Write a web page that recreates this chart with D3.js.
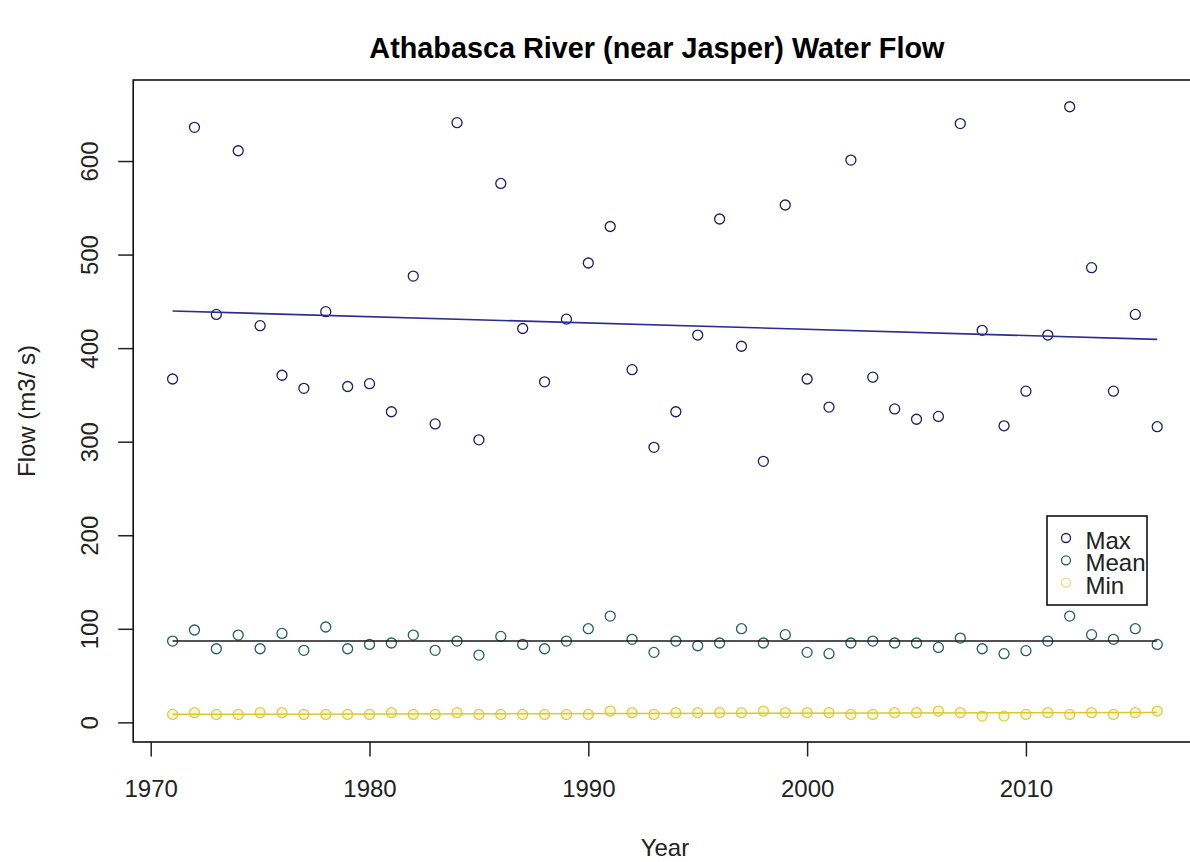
<!DOCTYPE html>
<html lang="en">
<head>
<meta charset="utf-8">
<title>Athabasca River (near Jasper) Water Flow</title>
<script src="https://d3js.org/d3.v7.min.js"></script>
<style>
  body { margin: 0; background: white; }
  text { font-family: "Liberation Sans", Arial, sans-serif; fill: #222; }
</style>
</head>
<body>
<script>
// yearly flow values (m3/s)
var years = [1971,1972,1973,1974,1975,1976,1977,1978,1979,1980,
             1981,1982,1983,1984,1985,1986,1987,1988,1989,1990,
             1991,1992,1993,1994,1995,1996,1997,1998,1999,2000,
             2001,2002,2003,2004,2005,2006,2007,2008,2009,2010,
             2011,2012,2013,2014,2015,2016];
var maxFlow = [367,636,436,611,424,371,357,439,359,362,
               332,477,319,641,302,576,421,364,431,491,
               530,377,294,332,414,538,402,279,553,367,
               337,601,369,335,324,327,640,419,317,354,
               414,658,486,354,436,316];
var meanFlow = [86.9,98.7,78.7,93.3,78.7,95.1,77.0,101.9,78.7,83.3,
                84.8,93.3,77.0,86.9,71.9,91.9,83.3,78.7,86.9,100.1,
                113.6,88.7,74.8,86.9,81.9,84.8,100.1,84.8,93.7,74.8,
                73.4,84.8,86.9,84.8,84.8,80.1,90.1,78.7,73.4,76.6,
                86.9,113.6,93.7,88.7,100.1,83.3];
var minFlow = [8.5,10.3,8.5,8.5,10.3,10.3,8.5,8.5,8.5,8.5,
               10.3,8.5,8.5,10.3,8.5,8.5,8.5,8.5,8.5,8.5,
               12.1,10.3,8.5,10.3,10.3,10.3,10.3,12.1,10.3,10.3,
               10.3,8.5,8.5,10.3,10.3,12.1,10.3,6.7,6.7,8.5,
               10.3,8.5,10.3,8.5,10.3,12.1];

// fitted trend lines (end points)
var trendYears = [1971, 2016];
var maxTrend = [439.7, 409.4];
var meanTrend = [86.9, 86.9];
var minTrend = [8.5, 10.6];

var xTicks = [1970, 1980, 1990, 2000, 2010];
var yTicks = [0, 100, 200, 300, 400, 500, 600];
var legendNames = ["Max", "Mean", "Min"];

var W = 1190, H = 862;
var plotL = 133.2, plotR = 1196.6, plotT = 80, plotB = 742;

var svg = d3.select("body").append("svg")
  .attr("width", W)
  .attr("height", H);

var x = d3.scaleLinear().domain([1969.2, 2017.8]).range([plotL, plotR]);
var y = d3.scaleLinear().domain([-21, 686.6]).range([plotB, plotT]);

//title
svg.append("text")
  .attr("x", (plotL + plotR) / 2 - 8)
  .attr("y", 57.5)
  .attr("text-anchor", "middle")
  .attr("font-size", "28.8px")
  .attr("font-weight", "bold")
  .style("fill", "#000")
  .text("Athabasca River (near Jasper) Water Flow");

//axes
var xAxis = svg.append("g")
  .attr("transform", "translate(0," + plotB + ")")
  .call(d3.axisBottom(x).tickValues(xTicks).tickFormat(d3.format("d")).tickSize(14.5).tickSizeOuter(0));
xAxis.select(".domain").remove();
xAxis.selectAll("line").attr("stroke", "#222").attr("stroke-width", 1.5);
xAxis.selectAll("text")
  .attr("font-size", "24px")
  .attr("y", 0)
  .attr("dy", "54.5px")
  .attr("font-family", "Liberation Sans, Arial, sans-serif")
  .style("fill", "#222");

var yAxis = svg.append("g")
  .attr("transform", "translate(" + plotL + ",0)")
  .call(d3.axisLeft(y).tickValues(yTicks).tickSize(15).tickSizeOuter(0));
yAxis.select(".domain").remove();
yAxis.selectAll("line").attr("stroke", "#222").attr("stroke-width", 1.5);
yAxis.selectAll("text")
  .attr("font-size", "24px")
  .attr("x", 0)
  .attr("dy", 0)
  .attr("text-anchor", "middle")
  .attr("font-family", "Liberation Sans, Arial, sans-serif")
  .attr("transform", "translate(-35,0) rotate(-90)")
  .style("fill", "#222");

// axis titles
svg.append("text")
  .attr("x", (plotL + plotR) / 2)
  .attr("y", 856)
  .attr("text-anchor", "middle")
  .attr("font-size", "24px")
  .text("Year");

svg.append("text")
  .attr("transform", "translate(35," + ((plotT + plotB) / 2) + ") rotate(-90)")
  .attr("text-anchor", "middle")
  .attr("font-size", "24px")
  .text("Flow (m3/ s)");

//plot box
svg.append("rect")
  .attr("x", plotL)
  .attr("y", plotT)
  .attr("width", plotR - plotL)
  .attr("height", plotB - plotT)
  .attr("fill", "none")
  .attr("stroke", "#111")
  .attr("stroke-width", 1.6);

var series = [
  {vals: maxFlow, pt: "#1e1e66", fill: "none", trend: maxTrend, line: "#2b2b92"},
  {vals: meanFlow, pt: "#245e62", fill: "none", trend: meanTrend, line: "#1a1a1a"},
  {vals: minFlow, pt: "#dccf45", fill: "#f4eeb4", trend: minTrend, line: "#d6c935"}
];

series.forEach(function(s) {
  svg.append("g").selectAll("circle")
    .data(years)
    .enter().append("circle")
    .attr("cx", function(d) { return x(d); })
    .attr("cy", function(d, i) { return y(s.vals[i]); })
    .attr("r", 5)
    .attr("fill", s.fill)
    .attr("fill-opacity", 0.6)
    .attr("stroke", s.pt)
    .attr("stroke-width", 1.3);
});

series.forEach(function(s) {
  svg.append("line")
    .attr("x1", x(trendYears[0]))
    .attr("y1", y(s.trend[0]))
    .attr("x2", x(trendYears[1]))
    .attr("y2", y(s.trend[1]))
    .attr("stroke", s.line)
    .attr("stroke-width", 1.6);
});

//legend
var lg = svg.append("g");
lg.append("rect")
  .attr("x", 1047)
  .attr("y", 516)
  .attr("width", 100)
  .attr("height", 89)
  .attr("fill", "white")
  .attr("stroke", "#111")
  .attr("stroke-width", 1.6);

var legendCols = ["#1e1e66", "#245e62", "#e6dc80"];
for (var i = 0; i < legendNames.length; i++) {
  lg.append("circle")
    .attr("cx", 1066)
    .attr("cy", 538 + i * 22.3)
    .attr("r", 4.5)
    .attr("fill", "none")
    .attr("stroke", legendCols[i])
    .attr("stroke-width", 1.3);
  lg.append("text")
    .attr("x", 1085.5)
    .attr("y", 549.3 + i * 22.1)
    .attr("font-size", "24px")
    .text(legendNames[i]);
}
</script>
</body>
</html>
